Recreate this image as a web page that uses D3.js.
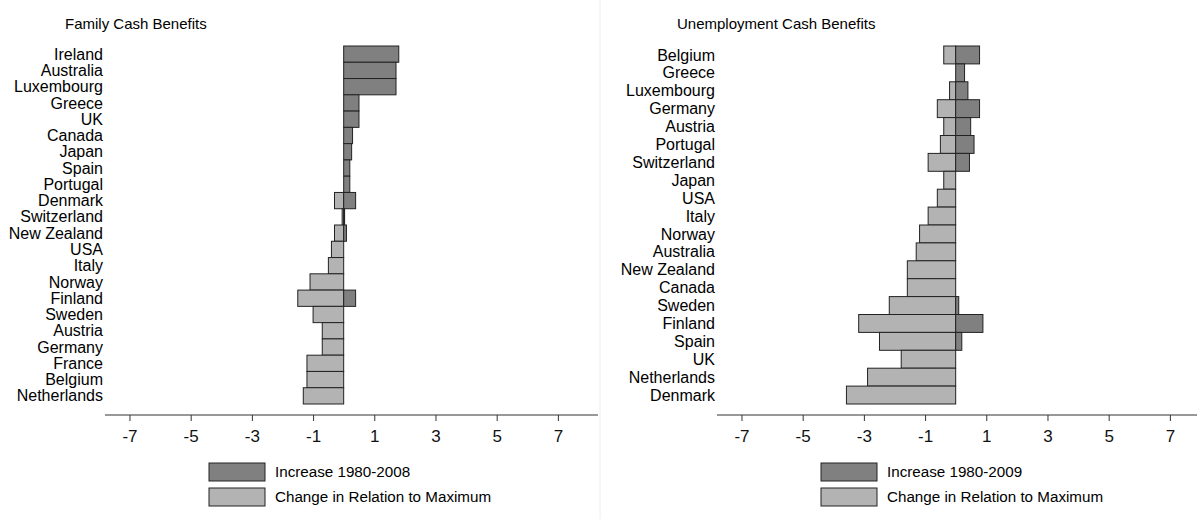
<!DOCTYPE html>
<html><head><meta charset="utf-8">
<script src="https://cdn.jsdelivr.net/npm/d3@7"></script>
<style>body{margin:0;background:#fff}svg{font-family:"Liberation Sans Narrow","Liberation Sans",Arial,sans-serif}</style>
</head><body><div class="drawingboard"></div>
<script>
// Family cash benefits
var famCountries = ["Ireland","Australia","Luxembourg","Greece","UK","Canada","Japan","Spain","Portugal","Denmark","Switzerland","New Zealand","USA","Italy","Norway","Finland","Sweden","Austria","Germany","France","Belgium","Netherlands"];
var famIncrease = [1.8,1.71,1.71,0.5,0.5,0.29,0.26,0.2,0.2,0.39,0.03,0.09,0,0,0,0.39,0,0,0,0,0,0];
var famChange = [0,0,0,0,0,0,0,0,0,-0.3,-0.05,-0.3,-0.4,-0.5,-1.1,-1.5,-1.0,-0.7,-0.7,-1.2,-1.2,-1.32];
// Unemployment cash benefits
var unCountries = ["Belgium","Greece","Luxembourg","Germany","Austria","Portugal","Switzerland","Japan","USA","Italy","Norway","Australia","New Zealand","Canada","Sweden","Finland","Spain","UK","Netherlands","Denmark"];
var unIncrease = [0.78,0.29,0.4,0.78,0.49,0.6,0.45,0,0,0,0,0,0,0,0.1,0.89,0.2,0,0,0];
var unChange = [-0.39,0,-0.2,-0.6,-0.39,-0.5,-0.9,-0.39,-0.6,-0.9,-1.18,-1.29,-1.58,-1.58,-2.17,-3.17,-2.49,-1.78,-2.88,-3.57];
var tickVals = [-7,-5,-3,-1,1,3,5,7];

var W = 1197, H = 519;
var svg = d3.select(".drawingboard").append("svg").attr("width", W).attr("height", H);
svg.append("line").attr("x1",600).attr("x2",600).attr("y1",0).attr("y2",H).style("stroke","#eee");

function panel(x0, x1, title, countries, inc, chg, legendX, legendLabel) {
    var g = svg.append("g");
    var x = d3.scaleLinear().domain([-7.8, 8.3]).range([x0, x0 + 16.1 * 30.6]);
    var y = d3.scaleBand().domain(countries).range([46, 404]);
    g.append("text").attr("x", x0 - 40).attr("y", 29).style("font-size","15px").text(title);

    g.selectAll(".chg").data(countries).enter().append("rect")
        .attr("x", function (d, i) { return x(Math.min(0, chg[i])); })
        .attr("width", function (d, i) { return Math.abs(x(chg[i]) - x(0)); })
        .attr("y", function (d) { return y(d); }).attr("height", y.bandwidth())
        .style("fill","#b3b3b3").style("stroke","#222").style("stroke-width",1)
        .style("display", function (d, i) { return chg[i] ? null : "none"; });
    g.selectAll(".inc").data(countries).enter().append("rect")
        .attr("x", x(0))
        .attr("width", function (d, i) { return x(inc[i]) - x(0); })
        .attr("y", function (d) { return y(d); }).attr("height", y.bandwidth())
        .style("fill","#808080").style("stroke","#222").style("stroke-width",1)
        .style("display", function (d, i) { return inc[i] ? null : "none"; });

    g.selectAll(".lab").data(countries).enter().append("text")
        .attr("x", x0 - 2).attr("y", function (d) { return y(d) + y.bandwidth() / 2; })
        .attr("dy","0.35em").attr("text-anchor","end").style("font-size","16px")
        .text(function (d) { return d; });

    var ax = g.append("g").attr("transform","translate(0,415)")
        .call(d3.axisBottom(x).tickValues(tickVals).tickFormat(function (d) { return String(d); })
            .tickSize(6).tickPadding(9).tickSizeOuter(0));
    ax.select(".domain").attr("d", "M" + x0 + ",0H" + x1).style("stroke","#333");
    ax.selectAll(".tick line").style("stroke","#333");
    ax.selectAll("text").style("font-size","17px").style("font-family","Liberation Sans Narrow, Arial").attr("fill","#111");

    var items = [[legendLabel,"#808080"],["Change in Relation to Maximum","#b3b3b3"]];
    items.forEach(function (it, i) {
        g.append("rect").attr("x", legendX).attr("y", 463 + i * 25).attr("width", 56).attr("height", 18)
            .style("fill", it[1]).style("stroke","#222");
        g.append("text").attr("x", legendX + 66).attr("y", 472 + i * 25).attr("dy","0.35em")
            .style("font-size","15.2px").text(it[0]);
    });
}

panel(105, 598, "Family Cash Benefits", famCountries, famIncrease, famChange, 209, "Increase 1980-2008");
panel(717, 1197, "Unemployment Cash Benefits", unCountries, unIncrease, unChange, 821, "Increase 1980-2009");
</script></body></html>
